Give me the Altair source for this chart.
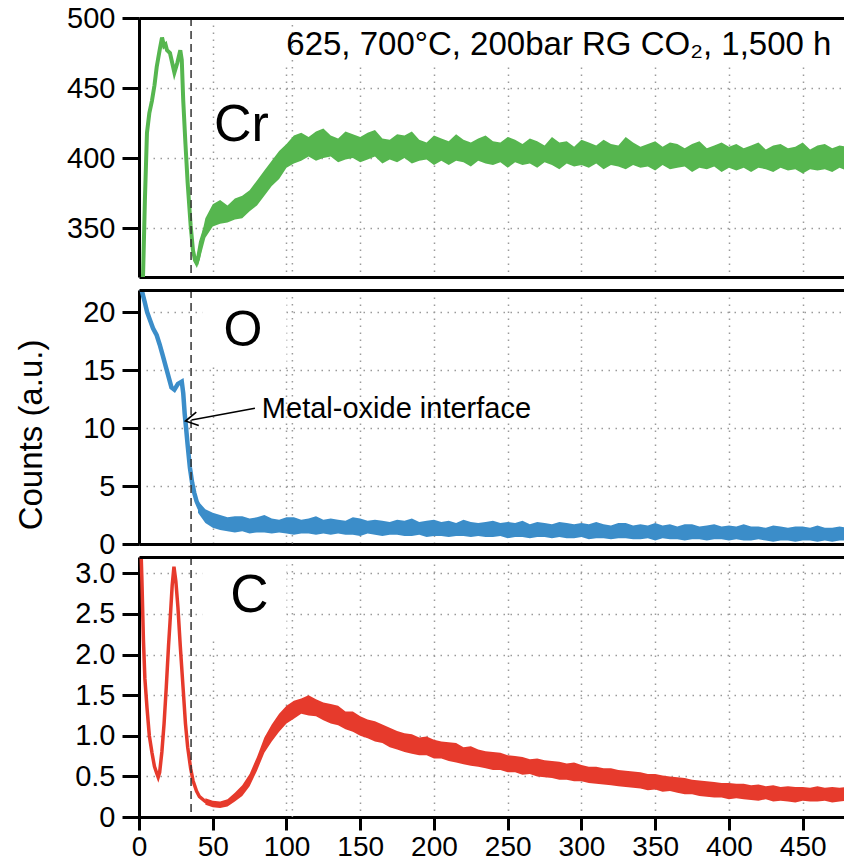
import altair as alt
import pandas as pd

FONT = "Liberation Sans"

# ---------------- data ----------------
# Cr (steep near-surface part drawn as a line)
cr_line_x = [1.5, 2.8, 4, 5.4, 7, 8.8, 10.5, 12, 14, 15.6, 17, 18, 19, 21, 22.5, 24, 26, 28, 29, 30, 31.5, 33, 35, 36.6, 38, 39, 40, 42, 45]
cr_line_y = [290, 318, 370, 418, 432, 441, 452, 465, 477, 486, 480, 481, 477, 475, 468, 461, 468, 477, 470, 441, 410, 382, 352, 334, 327, 325, 328, 340, 350]
# Cr noisy band (lower / upper envelope)
cr_band_x = [40, 45, 50, 55, 60, 65, 70, 75, 80, 85, 90, 95, 100, 105, 110, 115, 120, 125, 130, 135, 140, 145, 150, 155, 160, 165, 170, 175, 180, 185, 190, 195, 200,
             205, 210, 215, 220, 225, 230, 235, 240, 245, 250, 255, 260, 265, 270, 275, 280, 285, 290, 295, 300,
             305, 310, 315, 320, 325, 330, 335, 340, 345, 350, 355, 360, 365, 370, 375, 380, 385, 390, 395, 400,
             405, 410, 415, 420, 425, 430, 435, 440, 445, 450, 455, 460, 465, 470, 475, 480]
cr_band_hi = [333, 357, 367, 370, 366, 371, 373, 377, 384, 391, 398, 405, 410, 416, 418, 415, 419, 421, 416, 414, 419, 417, 415, 418, 420, 414, 413, 417, 416, 419, 413, 411, 416,
              414, 412, 417, 413, 411, 414, 416, 412, 411, 415, 413, 410, 414, 412, 409, 415, 411, 412, 408, 413,
              411, 409, 413, 410, 409, 415, 411, 408, 410, 412, 408, 411, 410, 407, 410, 412, 407, 409, 411, 408,
              410, 407, 409, 411, 406, 409, 410, 407, 408, 411, 406, 409, 410, 407, 409, 408]
cr_band_lo = [323, 343, 351, 353, 354, 356, 357, 362, 366, 373, 380, 385, 393, 396, 398, 401, 398, 400, 401, 397, 399, 400, 397, 399, 401, 396, 399, 397, 400, 396, 398, 399, 395,
              398, 395, 398, 397, 394, 398, 396, 395, 397, 393, 397, 395, 396, 393, 397, 395, 392, 396, 394, 395,
              393, 396, 392, 395, 394, 392, 395, 393, 394, 391, 395, 392, 393, 394, 390, 393, 392, 394, 390, 393,
              391, 393, 390, 393, 392, 390, 393, 391, 392, 389, 392, 391, 392, 390, 393, 391]

# O
o_line_x = [0.3, 2, 4, 5.5, 7.5, 9.5, 12, 14, 16, 19, 22, 24, 26.4, 29, 30, 31, 32, 33, 34.5, 36, 37.5, 39, 41, 43.5, 46]
o_line_y = [23, 21.8, 20.8, 20.0, 19.3, 18.6, 18.0, 17.2, 16.3, 14.9, 13.5, 13.3, 13.8, 14.0, 13.0, 11.2, 9.9, 8.5, 6.6, 5.3, 4.4, 3.7, 3.1, 2.6, 2.3]
o_band_x = cr_band_x
o_band_hi = [3.7, 3.0, 2.7, 2.5, 2.3, 2.4, 2.4, 2.2, 2.3, 2.5, 2.2, 2.1, 2.3,
             2.3, 2.1, 2.2, 2.4, 2.1, 2.2, 2.1, 2.0, 2.3, 2.2, 2.0, 2.1, 2.0, 1.9, 2.1, 2.0, 2.2, 1.9, 2.0, 2.1,
             1.9, 2.0, 1.8, 2.1, 1.9, 1.8, 1.9, 2.0, 1.8, 1.9, 1.8, 2.0, 1.7, 1.9, 1.8, 1.7, 1.9, 1.8, 1.7, 1.8,
             1.7, 1.9, 1.7, 1.6, 1.8, 1.8, 1.6, 1.7, 1.6, 1.8, 1.6, 1.7, 1.5, 1.7, 1.7, 1.5, 1.6, 1.7, 1.5, 1.6,
             1.5, 1.7, 1.5, 1.5, 1.4, 1.6, 1.5, 1.4, 1.5, 1.5, 1.4, 1.6, 1.4, 1.4, 1.5, 1.4]
o_band_lo = [2.7, 1.8, 1.4, 1.2, 1.1, 1.0, 1.1, 0.9, 1.0, 1.0, 0.9, 1.0, 0.9,
             0.8, 0.9, 0.9, 0.8, 0.9, 0.8, 0.9, 0.8, 0.8, 0.7, 0.9, 0.8, 0.7, 0.8, 0.8, 0.7, 0.7, 0.8, 0.6, 0.7,
             0.7, 0.6, 0.7, 0.7, 0.6, 0.7, 0.6, 0.6, 0.7, 0.5, 0.6, 0.6, 0.5, 0.6, 0.6, 0.5, 0.6, 0.5, 0.5, 0.6,
             0.4, 0.5, 0.5, 0.4, 0.5, 0.5, 0.4, 0.4, 0.5, 0.3, 0.5, 0.4, 0.4, 0.3, 0.4, 0.4, 0.3, 0.4, 0.4, 0.3,
             0.4, 0.3, 0.3, 0.4, 0.3, 0.2, 0.3, 0.3, 0.2, 0.3, 0.3, 0.2, 0.3, 0.2, 0.3, 0.3]

# C
c_line_x = [0.5, 1.5, 2, 3, 4, 5.4, 7, 8.8, 10.5, 12, 13, 14, 15.5, 17, 18.5, 20, 21, 22.5, 23.7, 25, 26.4, 28, 30, 31.5, 33, 35, 36.6, 39, 41, 45, 48]
c_line_y = [3.3, 3.2, 2.9, 2.18, 1.7, 1.35, 1.0, 0.79, 0.62, 0.54, 0.49, 0.55, 0.8, 1.15, 1.6, 2.1, 2.39, 2.85, 3.08, 2.9, 2.58, 2.1, 1.56, 1.15, 0.86, 0.6, 0.45, 0.32, 0.25, 0.19, 0.17]
c_band_x = cr_band_x[1:]
c_band_hi = [.23, .20, .19, .22, .30, .39, .53, .74, .98, 1.14, 1.27, 1.37,
             1.43, 1.46, 1.50, 1.45, 1.41, 1.39, 1.37, 1.30, 1.30, 1.24, 1.20, 1.18, 1.14, 1.10, 1.06, 1.03, 1.02, .98, .99, .95,
             .93, .92, .91, .86, .87, .83, .81, .80, .79, .76, .75, .74, .71, .72, .70, .69, .68, .66, .67, .64,
             .62, .62, .60, .60, .58, .57, .56, .55, .53, .53, .51, .50, .49, .48, .46, .45, .44, .43, .42, .42,
             .41, .41, .39, .40, .38, .39, .37, .38, .37, .37, .36, .38, .36, .37, .36, .37]
c_band_lo = [.15, .12, .11, .13, .19, .26, .38, .57, .79, .93, 1.05, 1.15,
             1.21, 1.27, 1.25, 1.24, 1.19, 1.15, 1.13, 1.08, 1.05, 1.00, .97, .93, .91, .86, .83, .80, .78, .76, .76, .72,
             .72, .69, .67, .65, .63, .62, .60, .58, .58, .55, .55, .52, .53, .50, .49, .48, .46, .46, .44, .44,
             .42, .41, .40, .39, .38, .37, .36, .35, .33, .34, .31, .32, .30, .28, .28, .26, .25, .24, .24, .22,
             .23, .22, .21, .20, .22, .19, .20, .19, .18, .20, .19, .19, .20, .18, .19, .20]

interface_x = [35.3]
x_ticks = [0, 50, 100, 150, 200, 250, 300, 350, 400, 450]
x_domain = [0, 478]

cr_ticks = [350, 400, 450, 500]
o_ticks = [0, 5, 10, 15, 20]
c_ticks = [0, 0.5, 1.0, 1.5, 2.0, 2.5, 3.0]

GREEN, BLUE, RED = "#56b64f", "#3b8dc9", "#e63a2c"

W = 705
GRID = dict(grid=True, gridDash=[1.5, 5.5], gridColor="#9a9a9a", gridWidth=1.5)


def x_axis(labels):
    kw = dict(values=x_ticks, title=None, domainColor="black", domainWidth=3, **GRID)
    if labels:
        kw.update(ticks=True, tickSize=13, tickWidth=3, tickColor="black", labels=True,
                  labelFontSize=28, labelFont=FONT, labelColor="black", labelPadding=3,
                  labelFlush=False, labelOverlap=False)
    else:
        kw.update(ticks=False, labels=False)
    return alt.Axis(**kw)


def y_axis(values, label_expr=None):
    kw = dict(values=values, domainColor="black", domainWidth=3, tickSize=17, tickWidth=3,
              tickColor="black", labelFontSize=29, labelFont=FONT, labelColor="black",
              labelPadding=7, labelFlush=False, labelOverlap=False, title=None, **GRID)
    if label_expr:
        kw["labelExpr"] = label_expr
    return alt.Axis(**kw)


top_axis = alt.Axis(orient="top", values=x_ticks, title=None, domainColor="black", domainWidth=3,
                    ticks=False, labels=False, grid=False, zindex=2)


def panel(line_x, line_y, band_x, band_lo, band_hi, color, lw, ydom, yax, xlabels, height,
          texts, boxes, extra=None):
    band = pd.DataFrame({"x": band_x, "lo": band_lo, "hi": band_hi})
    line = pd.DataFrame({"x": line_x, "y": line_y})
    xs = alt.Scale(domain=x_domain, nice=False, zero=False)
    ys = alt.Scale(domain=ydom, nice=False, zero=False)
    layers = []
    # white label boxes that hide the grid behind the labels
    if boxes:
        bdf = pd.DataFrame(boxes, columns=["x", "x2", "y", "y2"])
        layers.append(alt.Chart(bdf).mark_rect(color="white").encode(
            x=alt.X("x:Q", axis=None), x2="x2:Q", y=alt.Y("y:Q", axis=yax), y2="y2:Q"))
    base = alt.Chart(band).mark_area(color=color, opacity=1, clip=True).encode(
        x=alt.X("x:Q", scale=xs, axis=x_axis(xlabels)),
        y=alt.Y("lo:Q", scale=ys, axis=yax),
        y2="hi:Q",
    )
    ln = alt.Chart(line).mark_line(color=color, strokeWidth=lw, clip=True).encode(
        x=alt.X("x:Q", axis=None), y=alt.Y("y:Q", axis=yax))
    extra_grid = alt.Chart(pd.DataFrame({"x": [104]})).mark_rule(
        color="#9a9a9a", strokeWidth=1.5, strokeDash=[1.5, 5.5]).encode(
        x=alt.X("x:Q", axis=None))
    dash = alt.Chart(pd.DataFrame({"x": interface_x})).mark_rule(
        color="#333333", strokeWidth=1.5, strokeDash=[8, 5]).encode(
        x=alt.X("x:Q", axis=top_axis))
    layers += [extra_grid, base, ln, dash]
    for t in texts:
        df = pd.DataFrame({"x": [t["x"]], "y": [t["y"]], "t": [t["text"]]})
        layers.append(alt.Chart(df).mark_text(
            font=FONT, fontSize=t["size"], color="black", align=t.get("align", "center"),
            baseline="middle", angle=t.get("angle", 0)).encode(
            x=alt.X("x:Q", axis=None), y=alt.Y("y:Q", axis=yax), text="t:N"))
    for e in (extra or []):
        layers.append(e(yax))
    return alt.layer(*layers).resolve_axis(x="independent").properties(width=W, height=height)


cr = panel(cr_line_x, cr_line_y, cr_band_x, cr_band_lo, cr_band_hi, GREEN, 4, [315, 500],
           y_axis(cr_ticks), False, 259,
           [dict(x=69.4, y=423.6, text="Cr", size=52),
            dict(x=469.5, y=480.7, text="625, 700°C, 200bar RG CO₂, 1,500 h", size=33, align="right")],
           [(83, 478, 500, 466)])

# arrow for the metal-oxide interface
arrow_df = pd.DataFrame({"x": [78.6], "y": [11.7], "x2": [35.6], "y2": [10.7]})


def arrow_line(yax):
    return alt.Chart(arrow_df).mark_rule(color="black", strokeWidth=1.5).encode(
        x=alt.X("x:Q", axis=None), y=alt.Y("y:Q", axis=yax), x2="x2:Q", y2="y2:Q")


def arrow_head(yax):
    return alt.Chart(arrow_df).mark_point(
        shape="M 1 -1.1 L -1 0 L 1 1.1", filled=False, color="black", strokeWidth=1.6,
        size=150, angle=349.4, opacity=1).encode(
        x=alt.X("x2:Q", axis=None), y=alt.Y("y2:Q", axis=yax))


o = panel(o_line_x, o_line_y, o_band_x, o_band_lo, o_band_hi, BLUE, 4.5, [0, 21.9],
          y_axis(o_ticks), False, 254,
          [dict(x=70.5, y=18.4, text="O", size=50),
           dict(x=83.3, y=11.6, text="Metal-oxide interface", size=29, align="left"),
           dict(x=-72.5, y=9.4, text="Counts (a.u.)", size=33, angle=270)],
          [(43, 100, 21.9, 15.5)],
          extra=[arrow_line, arrow_head])

c = panel(c_line_x, c_line_y, c_band_x, c_band_lo, c_band_hi, RED, 3.5, [0, 3.2],
          y_axis(c_ticks, label_expr="datum.value == 0 ? '0' : format(datum.value, '.1f')"),
          True, 260,
          [dict(x=74.9, y=2.72, text="C", size=53)],
          [(43, 100, 3.2, 2.18)])

chart = alt.vconcat(cr, o, c, spacing=13, bounds="flush").properties(
    padding={"left": 16, "top": 4, "right": 0, "bottom": 0},
    background="white",
).configure_view(stroke=None)

chart.save("out.html", embed_options={"renderer": "svg", "actions": False})
